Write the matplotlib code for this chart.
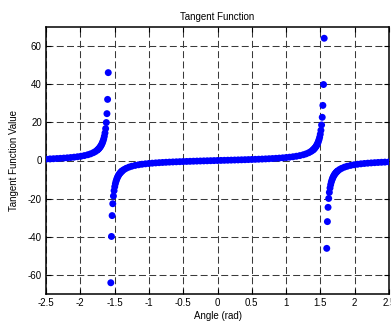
import matplotlib
matplotlib.use("Agg")
import matplotlib.pyplot as plt

# ---- data ----
# left branch (x < -pi/2)
left_x = [-2.5000, -2.4408, -2.3908, -2.3408, -2.2908, -2.2408, -2.1908, -2.1408,
          -2.0908, -2.0408, -1.9908, -1.9408, -1.8908, -1.8508, -1.8108, -1.7808,
          -1.7540, -1.7445, -1.7350, -1.7255, -1.7160, -1.7065, -1.6970, -1.6875,
          -1.6780, -1.6685, -1.6590, -1.6495, -1.6400, -1.6305, -1.6210, -1.6115,
          -1.6020, -1.5925]
left_y = [0.747, 0.844, 0.933, 1.031, 1.140, 1.262, 1.401, 1.560,
          1.746, 1.969, 2.239, 2.578, 3.017, 3.478, 4.086, 4.69,
          5.40, 5.70, 6.04, 6.41, 6.84, 7.32, 7.88, 8.53,
          9.29, 10.20, 11.31, 12.68, 14.43, 16.73, 19.90, 24.56,
          32.04, 46.07]

# middle branch (-pi/2 < x < pi/2)
mid_x = [-1.5552, -1.5457, -1.5362, -1.5267, -1.5172, -1.5077, -1.4982, -1.4887,
         -1.4792, -1.4697, -1.4602, -1.4507, -1.4412, -1.4317, -1.4222, -1.4127,
         -1.4032, -1.3937, -1.3842, -1.3608, -1.3308, -1.2908, -1.2508, -1.2008,
         -1.1508, -1.1008, -1.0508, -1.0008, -0.9508, -0.9008, -0.8508, -0.8008,
         -0.7508, -0.7008, -0.6508, -0.60, -0.55, -0.50, -0.45, -0.40, -0.35,
         -0.30, -0.25, -0.20, -0.15, -0.10, -0.05, 0.00,
         0.05, 0.10, 0.15, 0.20, 0.25, 0.30, 0.35, 0.40, 0.45, 0.50, 0.55, 0.60,
         0.6508, 0.7008, 0.7508, 0.8008, 0.8508, 0.9008, 0.9508, 1.0008, 1.0508,
         1.1008, 1.1508, 1.2008, 1.2508, 1.2908, 1.3308, 1.3608, 1.3842, 1.3937,
         1.4032, 1.4127, 1.4222, 1.4317, 1.4412, 1.4507, 1.4602, 1.4697, 1.4792,
         1.4887, 1.4982, 1.5077, 1.5172, 1.5267, 1.5362, 1.5457, 1.5552]
mid_y = [-64.1, -39.83, -28.89, -22.66, -18.64, -15.83, -13.75, -12.15,
         -10.89, -9.86, -9.01, -8.29, -7.67, -7.14, -6.68, -6.27,
         -5.91, -5.59, -5.30, -4.69, -4.086, -3.478, -3.017, -2.578,
         -2.239, -1.969, -1.746, -1.560, -1.401, -1.262, -1.140, -1.031,
         -0.933, -0.844, -0.761, -0.6841, -0.6131, -0.5463, -0.4831, -0.4228, -0.3650,
         -0.3093, -0.2553, -0.2027, -0.1511, -0.1003, -0.0500, 0.0,
         0.0500, 0.1003, 0.1511, 0.2027, 0.2553, 0.3093, 0.3650, 0.4228, 0.4831,
         0.5463, 0.6131, 0.6841,
         0.761, 0.844, 0.933, 1.031, 1.140, 1.262, 1.401, 1.560, 1.746,
         1.969, 2.239, 2.578, 3.017, 3.478, 4.086, 4.69, 5.30, 5.59,
         5.91, 6.27, 6.68, 7.14, 7.67, 8.29, 9.01, 9.86, 10.89,
         12.15, 13.75, 15.83, 18.64, 22.66, 28.89, 39.83, 64.1]

# right branch (x > pi/2)
right_x = [1.5925, 1.6020, 1.6115, 1.6210, 1.6305, 1.6400, 1.6495, 1.6590,
           1.6685, 1.6780, 1.6875, 1.6970, 1.7065, 1.7160, 1.7255, 1.7350,
           1.7445, 1.7540, 1.7808, 1.8108, 1.8508, 1.8908, 1.9408, 1.9908,
           2.0408, 2.0908, 2.1408, 2.1908, 2.2408, 2.2908, 2.3408, 2.3908,
           2.4408, 2.5000]
right_y = [-46.07, -32.04, -24.56, -19.90, -16.73, -14.43, -12.68, -11.31,
           -10.20, -9.29, -8.53, -7.88, -7.32, -6.84, -6.41, -6.04,
           -5.70, -5.40, -4.69, -4.086, -3.478, -3.017, -2.578, -2.239,
           -1.969, -1.746, -1.560, -1.401, -1.262, -1.140, -1.031, -0.933,
           -0.844, -0.747]

x_ticks = [-2.5, -2, -1.5, -1, -0.5, 0, 0.5, 1, 1.5, 2, 2.5]
x_tick_labels = ["-2.5", "-2", "-1.5", "-1", "-0.5", "0", "0.5", "1", "1.5", "2", "2.5"]
y_ticks = [-60, -40, -20, 0, 20, 40, 60]
y_tick_labels = ["-60", "-40", "-20", "0", "20", "40", "60"]

plt.rcParams['font.family'] = ['Liberation Sans', 'DejaVu Sans']
plt.rcParams['lines.scale_dashes'] = False

fig = plt.figure(figsize=(3.91, 3.23), dpi=100)
ax = fig.add_axes([46/391, 1 - 294/323, (389 - 46)/391, (294 - 27)/323])

for xs, ys in [(left_x, left_y), (mid_x, mid_y), (right_x, right_y)]:
    ax.scatter(xs, ys, s=25, c='#0000FF', edgecolors='none', zorder=3, clip_on=True)

ax.set_xlim(-2.5, 2.5)
ax.set_ylim(-70, 70)
ax.set_xticks(x_ticks)
ax.set_xticklabels(x_tick_labels)
ax.set_yticks(y_ticks)
ax.set_yticklabels(y_tick_labels)

ax.grid(True, color='#3a3a3a', linestyle=(0, (5.0, 2.4)), linewidth=0.75)
ax.set_axisbelow(True)

ax.tick_params(direction='in', length=3.6, width=0.8, top=True, right=True,
               labelsize=7, pad=3, colors='black')
for sp in ax.spines.values():
    sp.set_linewidth(1.1)

ax.set_title("Tangent Function", fontsize=7, pad=5)
ax.set_xlabel("Angle (rad)", fontsize=7, labelpad=2)
ax.set_ylabel("Tangent Function Value", fontsize=7, labelpad=6)

fig.savefig("out.png", dpi=100)
